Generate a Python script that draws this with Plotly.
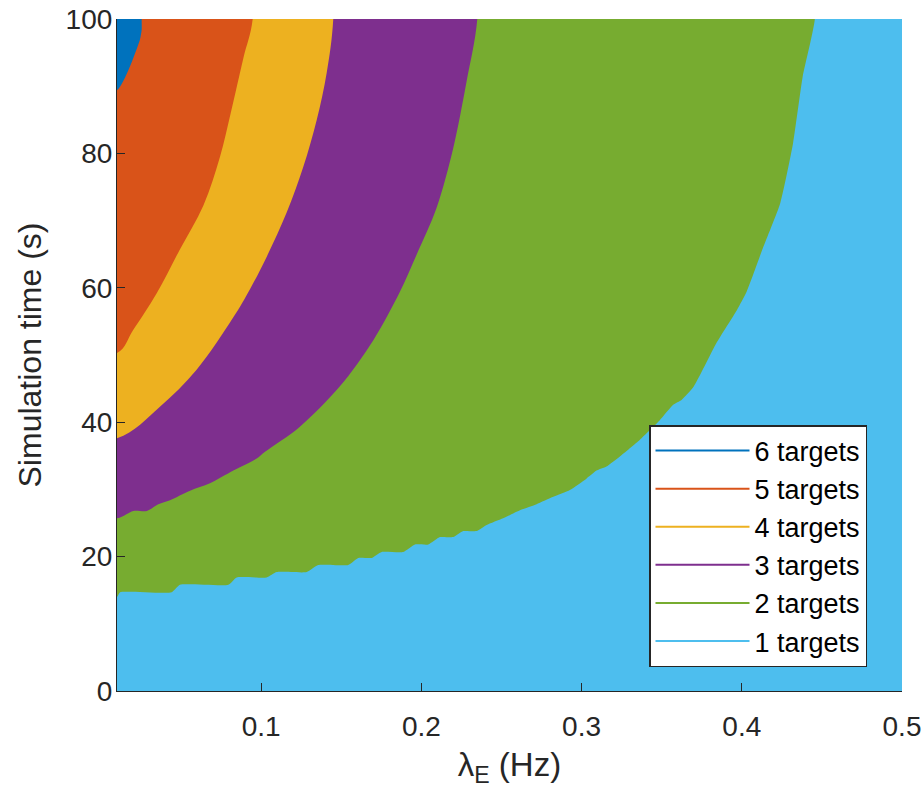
import plotly.graph_objects as go

# ---- data ----
x_min, x_max = 0.01, 0.5
y_min, y_max = 0, 100

labels = ["1 targets", "2 targets", "3 targets", "4 targets", "5 targets", "6 targets"]
colors = ["#4DBEEE", "#77AC30", "#7E2F8E", "#EDB120", "#D95319", "#0072BD"]

# boundary between 1 and 2 targets
bx12 = [0.010, 0.0119, 0.0441, 0.0493, 0.0795, 0.0847, 0.1034, 0.1097, 0.1284, 0.1356,
        0.1543, 0.1606, 0.1689, 0.1752, 0.1887, 0.196, 0.2043, 0.2116, 0.2199, 0.2261,
        0.2345, 0.2407, 0.251, 0.2615, 0.2719, 0.2823, 0.2927, 0.303, 0.3093, 0.3155,
        0.3239, 0.3364, 0.3488, 0.3572, 0.3624, 0.370, 0.384, 0.397, 0.403, 0.413,
        0.424, 0.432, 0.438, 0.4456]
by12 = [14.0, 14.7, 14.7, 15.8, 15.8, 16.9, 16.9, 17.7, 17.7, 18.75,
        18.75, 19.8, 19.8, 20.7, 20.7, 21.8, 21.8, 22.9, 22.9, 23.8,
        23.8, 24.7, 25.7, 26.9, 27.8, 28.9, 29.9, 31.6, 32.8, 33.4,
        34.9, 37.4, 40.3, 42.6, 43.3, 45.3, 51.7, 56.7, 59.4, 65.8,
        72.6, 81.5, 91.4, 100]

# boundary between 2 and 3 targets
bx23 = [0.010, 0.0202, 0.0285, 0.0358, 0.0431, 0.0556, 0.068, 0.0826, 0.0972, 0.1024,
        0.124, 0.149, 0.170, 0.1866, 0.197, 0.2095, 0.2199, 0.2282, 0.2349]
by23 = [25.7, 26.8, 26.8, 27.8, 28.4, 29.8, 30.9, 32.8, 34.6, 35.6,
        39.3, 45.3, 52.2, 59.4, 64.9, 71.9, 80.8, 90.7, 100]

# boundary between 3 and 4 targets
bx34 = [0.010, 0.0368, 0.0597, 0.0826, 0.093, 0.1034, 0.1159, 0.1263, 0.1347, 0.1409, 0.145]
by34 = [37.6, 42.3, 47.8, 55.6, 59.8, 64.6, 71.2, 78.0, 85.0, 92.0, 100]

# boundary between 4 and 5 targets
bx45 = [0.010, 0.020, 0.0348, 0.049, 0.064, 0.0743, 0.081, 0.0889, 0.0947]
by45 = [50.3, 53.7, 59.2, 65.6, 72.3, 79.5, 86.0, 94.2, 100]

# boundary between 5 and 6 targets
bx56 = [0.010, 0.0243, 0.0254, 0.0254]
by56 = [89.4, 96.9, 98.4, 100]

boundaries = [(bx12, by12), (bx23, by23), (bx34, by34), (bx45, by45), (bx56, by56)]
smooth = [0.5, 0.9, 1.0, 1.0, 0.5]

fig = go.Figure()

# region 1 (whole axis area)
fig.add_trace(go.Scatter(
    x=[x_min, x_max, x_max, x_min], y=[y_min, y_min, y_max, y_max],
    fill="toself", fillcolor=colors[0], mode="lines", line=dict(width=0),
    showlegend=False, hoverinfo="skip"))

# regions >= k, layered; the closing corner is taken outside the axes (clipped)
pad_x = 0.05
pad_y = 20
for k, (bx, by) in enumerate(boundaries, start=1):
    px = [x_min - pad_x] + list(bx) + [bx[-1], x_min - pad_x]
    py = [by[0]] + list(by) + [y_max + pad_y, y_max + pad_y]
    fig.add_trace(go.Scatter(
        x=px, y=py,
        fill="toself", fillcolor=colors[k], mode="lines",
        line=dict(width=0, shape="spline", smoothing=smooth[k - 1]),
        showlegend=False, hoverinfo="skip"))

# legend entries (6 -> 1)
for i in range(5, -1, -1):
    fig.add_trace(go.Scatter(
        x=[None], y=[None], mode="lines", name=labels[i],
        line=dict(color=colors[i], width=2), legendgroup=labels[i]))

font_family = "Liberation Sans, Arial, Helvetica, sans-serif"
axcol = "#262626"

fig.update_layout(
    width=924, height=794,
    margin=dict(l=117, r=22, t=19, b=103),
    paper_bgcolor="white", plot_bgcolor="white",
    font=dict(family=font_family, color=axcol, size=28),
    showlegend=True,
    legend=dict(
        x=(649 - 117) / 785, y=(691 - 425) / 672, xanchor="left", yanchor="top",
        bgcolor="white", bordercolor=axcol, borderwidth=1.5,
        font=dict(size=27, color="black"),
        traceorder="grouped", tracegroupgap=0, itemwidth=94,
    ),
    xaxis=dict(
        range=[x_min, x_max], tickvals=[0.1, 0.2, 0.3, 0.4, 0.5],
        ticktext=["0.1", "0.2", "0.3", "0.4", "0.5"],
        ticks="inside", ticklen=8, tickwidth=1.2, tickcolor=axcol,
        showline=True, linecolor=axcol, linewidth=1.2, showgrid=False, zeroline=False,
        ticklabelstandoff=10, automargin=False,
        title=dict(text="λ<sub>E</sub> (Hz)", font=dict(size=33), standoff=12),
    ),
    yaxis=dict(
        range=[y_min, y_max], tickvals=[0, 20, 40, 60, 80, 100],
        ticks="inside", ticklen=8, tickwidth=1.2, tickcolor=axcol,
        showline=True, linecolor=axcol, linewidth=1.2, showgrid=False, zeroline=False,
        ticklabelstandoff=-2, automargin=False,
        title=dict(text="Simulation time (s)", font=dict(size=32), standoff=14),
    ),
)

fig.write_html("out.html")
